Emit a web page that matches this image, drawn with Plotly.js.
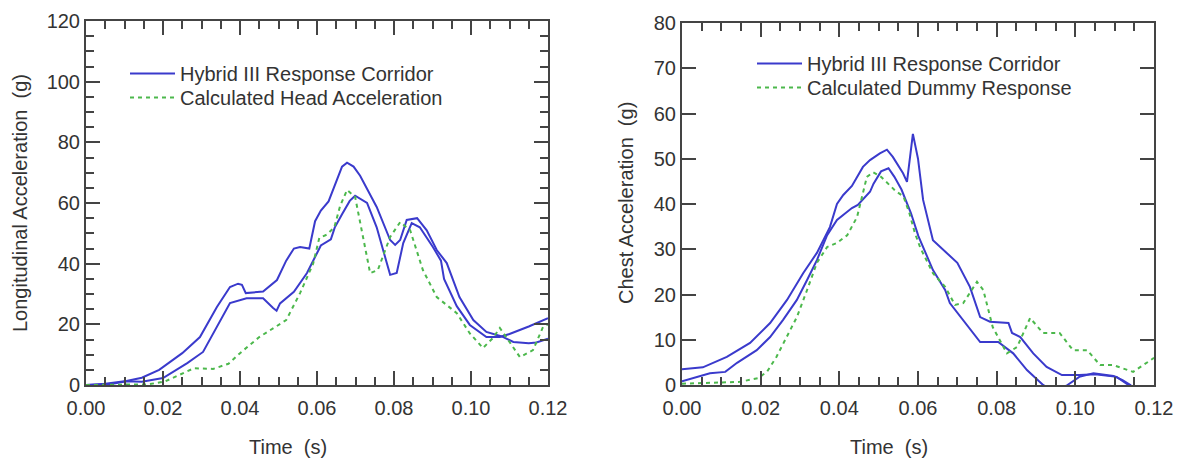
<!DOCTYPE html>
<html>
<head>
<meta charset="utf-8">
<script src="https://cdn.plot.ly/plotly-3.0.1.min.js"></script>
<style>html,body{margin:0;padding:0;background:#fff;}#chart{width:1181px;height:464px;}</style>
</head>
<body>
<div id="chart"></div>
<script>
// ---- Left panel: head acceleration ----
const headUpperT = [0, 0.005, 0.0105, 0.0145, 0.019, 0.025, 0.0296, 0.034, 0.0374, 0.0395, 0.0405, 0.0415, 0.046, 0.0496, 0.052, 0.054, 0.0556, 0.058, 0.0595, 0.061, 0.063, 0.065, 0.0665, 0.0678, 0.0695, 0.0712, 0.0755, 0.079, 0.0803, 0.0816, 0.0833, 0.086, 0.0885, 0.0911, 0.0937, 0.097, 0.1006, 0.104, 0.108, 0.111, 0.115, 0.117, 0.12];
const headUpperG = [0, 0.4, 1.3, 2.4, 5, 10.5, 15.8, 25.7, 32.3, 33.4, 33, 30.3, 30.8, 34.6, 41, 45, 45.5, 45, 54, 57.5, 60.5, 67, 72, 73.3, 72, 69, 58.7, 47.8, 46.2, 47.8, 54.4, 55, 51, 44.5, 40.2, 29, 21.4, 17.5, 16, 14.2, 13.8, 14, 15.3];

const headLowerT = [0, 0.006, 0.0105, 0.0145, 0.02, 0.0236, 0.0263, 0.0304, 0.034, 0.0374, 0.0417, 0.046, 0.0486, 0.0495, 0.0504, 0.054, 0.0574, 0.061, 0.0636, 0.0646, 0.0665, 0.0685, 0.0699, 0.073, 0.0755, 0.0777, 0.079, 0.0807, 0.0824, 0.0846, 0.0867, 0.0901, 0.0922, 0.093, 0.0963, 0.0997, 0.104, 0.1075, 0.11, 0.115, 0.12];
const headLowerG = [0, 0.2, 1.2, 1.1, 2.3, 5, 7.2, 10.9, 19, 27, 28.6, 28.6, 25.4, 24.5, 26.9, 30.7, 36.9, 46, 48, 51.9, 56.3, 60.7, 62.4, 60, 52, 42.2, 36.3, 36.9, 46.8, 53.4, 52, 45.5, 41, 35, 26, 19.8, 15.8, 15.8, 16.8, 19.3, 22];

const headCalcT = [0, 0.016, 0.0204, 0.0243, 0.028, 0.033, 0.037, 0.04, 0.045, 0.052, 0.0556, 0.059, 0.0606, 0.0626, 0.0645, 0.066, 0.0678, 0.0699, 0.072, 0.0738, 0.0758, 0.079, 0.0816, 0.0842, 0.0875, 0.0911, 0.0963, 0.0997, 0.1031, 0.1057, 0.1075, 0.1101, 0.1127, 0.1161, 0.1187, 0.12];
const headCalcG = [0, 0.2, 1.1, 3.3, 5.5, 5.3, 7, 10.5, 15.8, 21.4, 30.3, 40, 48.5, 49.6, 52, 59, 64.3, 62, 48.8, 36.9, 37.9, 48.8, 53.7, 51, 37.9, 29, 23.7, 17, 12.2, 15.5, 18.8, 13.8, 9.2, 11.5, 19.1, 20];

// ---- Right panel: chest acceleration ----
const chestUpperT = [0, 0.0053, 0.0114, 0.0173, 0.0224, 0.0267, 0.0308, 0.0343, 0.0376, 0.0394, 0.041, 0.0432, 0.046, 0.0478, 0.0503, 0.0521, 0.0536, 0.0562, 0.0572, 0.0587, 0.06, 0.0613, 0.0638, 0.070, 0.0732, 0.0758, 0.0783, 0.083, 0.0839, 0.086, 0.0893, 0.0927, 0.0966, 0.101, 0.105, 0.1105, 0.1135, 0.116];
const chestUpperG = [3.5, 3.9, 6.2, 9.3, 13.7, 18.8, 24.7, 29.2, 34.9, 40, 42, 44, 48.2, 49.7, 51.2, 52, 50.4, 46.8, 44.9, 55.5, 50, 40.9, 32, 27, 21.7, 15, 14, 13.7, 11.5, 10.6, 7, 4, 2.2, 2.2, 2.4, 1.8, 0, -3];

const chestLowerT = [0, 0.0071, 0.011, 0.014, 0.019, 0.0224, 0.0257, 0.0292, 0.0318, 0.0343, 0.0369, 0.0394, 0.0432, 0.0447, 0.0478, 0.0487, 0.0506, 0.0525, 0.054, 0.0558, 0.0582, 0.0601, 0.0638, 0.0669, 0.0681, 0.0715, 0.0758, 0.0804, 0.0842, 0.0877, 0.0918, 0.095, 0.098, 0.101, 0.1046, 0.1097, 0.112, 0.114, 0.116];
const chestLowerG = [0.8, 2.6, 2.9, 4.9, 7.7, 10.6, 14.4, 18.8, 23.2, 27.6, 33.1, 36.5, 39.1, 39.8, 42.7, 44.5, 47.2, 47.9, 46, 43.2, 38, 32.9, 25.4, 21, 18.1, 14.4, 9.5, 9.5, 7, 3.3, 0, -1.5, 0, 1.8, 2.6, 2, 1.1, 0, -2];

const chestCalcT = [0, 0.0104, 0.0147, 0.0193, 0.0216, 0.024, 0.0267, 0.0292, 0.0318, 0.0343, 0.0369, 0.0394, 0.042, 0.0445, 0.047, 0.0486, 0.0506, 0.0525, 0.0544, 0.0563, 0.0578, 0.0592, 0.0606, 0.0638, 0.0669, 0.0694, 0.0715, 0.075, 0.0766, 0.079, 0.0826, 0.0852, 0.0885, 0.0918, 0.096, 0.0994, 0.103, 0.1063, 0.1096, 0.1147, 0.1182, 0.12];
const chestCalcG = [0.3, 0.7, 0.7, 1.5, 2.9, 6.2, 10.6, 15, 21, 27, 30.5, 31.4, 33.1, 37.1, 46, 47, 46, 44.3, 42.8, 41.7, 38, 33.6, 30.3, 24.7, 21.7, 17.7, 18.1, 22.8, 21, 12.8, 7, 8.4, 14.8, 11.5, 11.5, 7.7, 7.7, 4.4, 4.4, 2.9, 4.9, 6];

const legendCorridor = 'Hybrid III Response Corridor';
const legendHead = 'Calculated Head Acceleration';
const legendChest = 'Calculated Dummy Response';
const xTitle = 'Time\u00a0 (s)';
const yTitleLeft = 'Longitudinal Acceleration\u00a0 (g)';
const yTitleRight = 'Chest Acceleration\u00a0 (g)';

const BLUE = '#3a3acc';
const GREEN = '#4cb84c';
const AX = '#444444';
const TXT = '#333333';
const FONT = 'Liberation Sans, Arial, Helvetica, sans-serif';

const blueLine = {color: BLUE, width: 2};
const greenLine = {color: GREEN, width: 2, dash: '4px,4px'};

const traces = [
  {x: headUpperT, y: headUpperG, xaxis: 'x', yaxis: 'y', mode: 'lines', line: blueLine, name: legendCorridor, legend: 'legend', showlegend: true},
  {x: headLowerT, y: headLowerG, xaxis: 'x', yaxis: 'y', mode: 'lines', line: blueLine, name: legendCorridor, legend: 'legend', showlegend: false},
  {x: headCalcT, y: headCalcG, xaxis: 'x', yaxis: 'y', mode: 'lines', line: greenLine, name: legendHead, legend: 'legend2', showlegend: true},
  {x: chestUpperT, y: chestUpperG, xaxis: 'x2', yaxis: 'y2', mode: 'lines', line: blueLine, name: legendCorridor, legend: 'legend3', showlegend: true},
  {x: chestLowerT, y: chestLowerG, xaxis: 'x2', yaxis: 'y2', mode: 'lines', line: blueLine, name: legendCorridor, legend: 'legend3', showlegend: false},
  {x: chestCalcT, y: chestCalcG, xaxis: 'x2', yaxis: 'y2', mode: 'lines', line: greenLine, name: legendChest, legend: 'legend4', showlegend: true}
];

const W = 1181, H = 464;
function px(x) { return x / W; }
function py(y) { return (H - y) / H; }

function xAxis(domain, anchor) {
  return {
    domain: domain, anchor: anchor, range: [0, 0.12], dtick: 0.02, tick0: 0, tickformat: '.2f',
    showline: true, linecolor: AX, linewidth: 2, mirror: 'allticks',
    ticks: 'inside', ticklen: 14, tickwidth: 2, tickcolor: AX,
    minor: {dtick: 0.005, tick0: 0, ticks: 'inside', ticklen: 8, tickwidth: 2, tickcolor: AX, showgrid: false},
    showgrid: false, zeroline: false, fixedrange: true,
    tickfont: {family: FONT, size: 20, color: TXT}, ticklabelstandoff: 4
  };
}
function yAxis(domain, anchor, range, dtick, minor) {
  const a = {
    domain: domain, anchor: anchor, range: range, dtick: dtick, tick0: 0,
    showline: true, linecolor: AX, linewidth: 2, mirror: 'allticks',
    ticks: 'inside', ticklen: 14, tickwidth: 2, tickcolor: AX,
    showgrid: false, zeroline: false, fixedrange: true,
    tickfont: {family: FONT, size: 20, color: TXT}
  };
  if (minor) a.minor = {dtick: minor, tick0: 0, ticks: 'inside', ticklen: 8, tickwidth: 2, tickcolor: AX, showgrid: false};
  return a;
}
function leg(x, y) {
  return {x: px(x), y: py(y), xanchor: 'left', yanchor: 'top', bgcolor: 'rgba(0,0,0,0)', borderwidth: 0,
          font: {family: FONT, size: 20, color: TXT}, itemwidth: 45};
}

const layout = {
  width: W, height: H,
  margin: {l: 0, r: 0, t: 0, b: 0},
  paper_bgcolor: '#ffffff', plot_bgcolor: '#ffffff',
  font: {family: FONT, size: 20, color: TXT},
  xaxis: xAxis([px(86), px(548)], 'y'),
  yaxis: yAxis([py(385), py(21)], 'x', [0, 120], 20, 5),
  xaxis2: xAxis([px(682), px(1154)], 'y2'),
  yaxis2: yAxis([py(385), py(23)], 'x2', [0, 80], 10, null),
  legend: leg(125, 54),
  legend2: leg(125, 78),
  legend3: leg(752, 44),
  legend4: leg(752, 68),
  showlegend: true,
  annotations: [
    {text: xTitle, xref: 'paper', yref: 'paper', x: px(288), y: py(447), xanchor: 'center', yanchor: 'middle', showarrow: false, font: {family: FONT, size: 20, color: TXT}},
    {text: xTitle, xref: 'paper', yref: 'paper', x: px(889), y: py(447), xanchor: 'center', yanchor: 'middle', showarrow: false, font: {family: FONT, size: 20, color: TXT}},
    {text: yTitleLeft, xref: 'paper', yref: 'paper', x: px(20), y: py(203), xanchor: 'center', yanchor: 'middle', textangle: -90, showarrow: false, font: {family: FONT, size: 20, color: TXT}},
    {text: yTitleRight, xref: 'paper', yref: 'paper', x: px(626), y: py(203), xanchor: 'center', yanchor: 'middle', textangle: -90, showarrow: false, font: {family: FONT, size: 20, color: TXT}}
  ]
};

Plotly.newPlot('chart', traces, layout, {displayModeBar: false, staticPlot: true});
</script>
</body>
</html>
